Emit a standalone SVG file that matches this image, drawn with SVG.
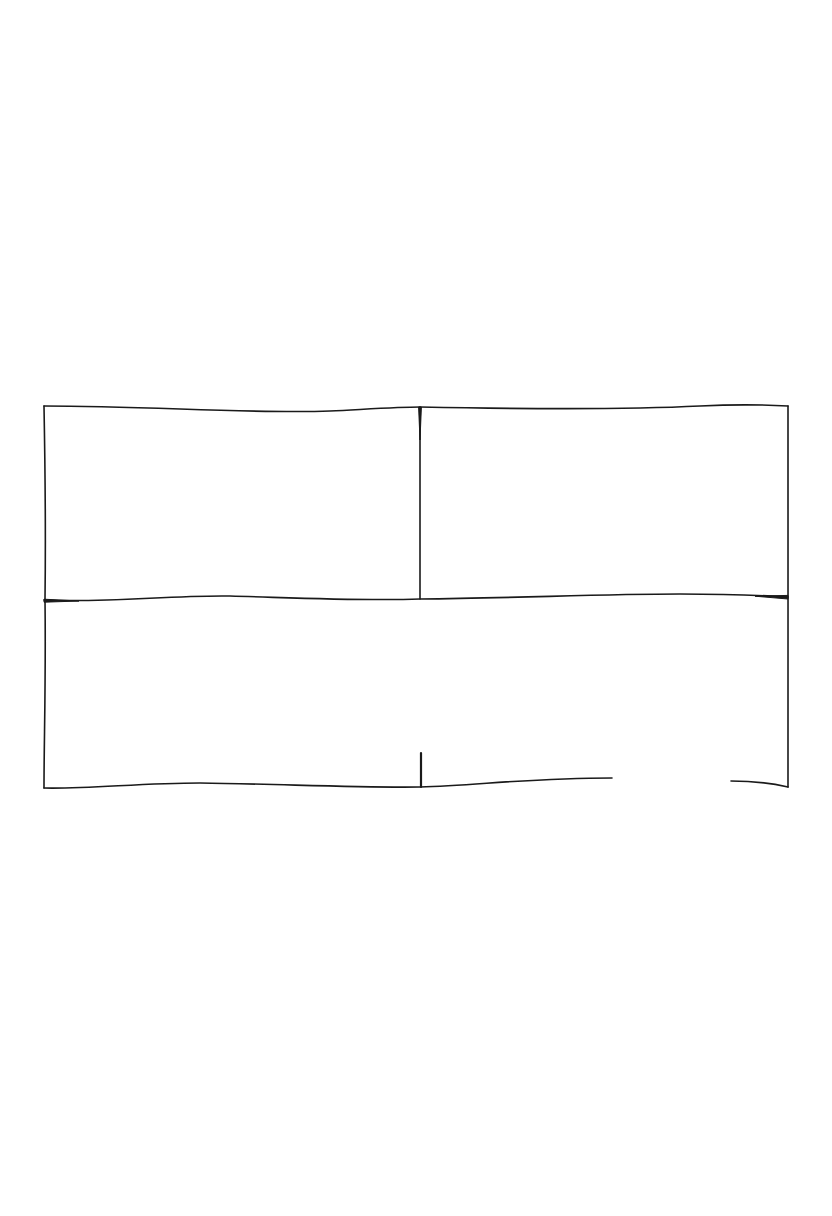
<svg xmlns="http://www.w3.org/2000/svg" width="832" height="1216" viewBox="0 0 832 1216">
<style>
.ln{fill:none;stroke:#1a1a1a;stroke-width:1.6;stroke-linecap:round;stroke-linejoin:round}
.tk{fill:#1a1a1a;stroke:#1a1a1a;stroke-width:1;stroke-linejoin:round}
</style>
<rect width="832" height="1216" fill="#ffffff"/>
<g id="frame">
<path class="ln" d="M44,406 C45,460 46,520 45,600 C46,680 44,740 44,788"/>
<path class="ln" d="M44,406 C150,406 250,414 330,411 C370,409 400,407 420,407 C520,409 620,410 700,406 C740,404 770,405 788,406"/>
<path class="ln" d="M788,406 C789,500 787,700 788,787"/>
</g>
<g id="cell-top-left">
<path class="ln" d="M420,407 L420,599"/>
</g>
<g id="cell-middle">
<path class="ln" d="M44,600 C110,603 170,595 230,596 C300,598 360,601 420,599 C520,598 600,594 680,594 C740,594 770,596 788,597"/>
</g>
<g id="cell-bottom">
<path class="ln" d="M44,788 C90,789 140,783 200,783 C280,784 360,788 420,787 C480,785 530,778 612,778"/>
<path class="ln" d="M731,781 C760,781 775,784 788,787"/>
</g>
<g id="connectors">
<path class="tk" d="M418.6,407 L420,440 L421.4,407 Z" fill="none"/>
<path class="tk" d="M44,599.2 L79,601 L44,602.2 Z" fill="none"/>
<path class="tk" d="M788,595.4 L755,596.2 L788,599 Z" fill="none"/>
<path class="ln" style="stroke-width:2.2" d="M421,753 L421,787"/>
</g>
</svg>
